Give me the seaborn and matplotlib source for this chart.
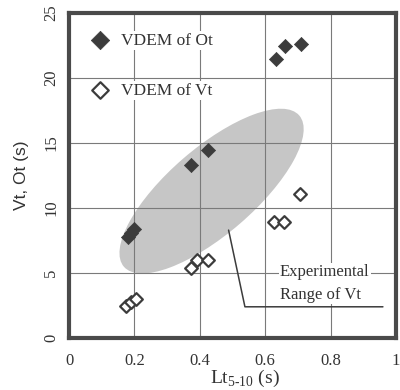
import numpy as np
import pandas as pd
import matplotlib
matplotlib.use("Agg")
import matplotlib.pyplot as plt
import seaborn as sns
from matplotlib.patches import Ellipse

# VDEM of Ot (filled diamonds)
ot_x = [0.18, 0.19, 0.20, 0.372, 0.424, 0.632, 0.662, 0.708]
ot_y = [7.75, 8.05, 8.35, 13.3, 14.5, 21.5, 22.5, 22.6]

# VDEM of Vt (open diamonds)
vt_x = [0.175, 0.19, 0.205, 0.373, 0.39, 0.424, 0.626, 0.657, 0.706]
vt_y = [2.5, 2.75, 3.0, 5.35, 6.0, 6.0, 8.95, 8.95, 11.1]

x_ticks = [0, 0.2, 0.4, 0.6, 0.8, 1.0]
x_tick_labels = ["0", "0.2", "0.4", "0.6", "0.8", "1"]
y_ticks = [0, 5, 10, 15, 20, 25]

# leader line of the "Experimental Range of Vt" note
leader_x = [0.488, 0.538, 0.96]
leader_y = [8.3, 2.4, 2.4]

sns.set_style("white")
plt.rcParams["font.family"] = ["Liberation Serif", "DejaVu Serif"]
plt.rcParams["mathtext.fontset"] = "custom"
plt.rcParams["mathtext.rm"] = "Liberation Serif"

dark = "#3c3c3c"
text_col = "#333333"

df_ot = pd.DataFrame({"x": ot_x, "y": ot_y})
df_vt = pd.DataFrame({"x": vt_x, "y": vt_y})

fig = plt.figure(figsize=(4, 3.9), dpi=100)
ax = fig.add_axes([69 / 400, (390 - 338) / 390, 327 / 400, 325 / 390])

# shaded experimental range (drawn in axes fraction so the tilt stays right)
blob = Ellipse((0.436, 0.452), 0.71, 0.265, angle=41,
               transform=ax.transAxes, facecolor="#c6c6c6",
               edgecolor="none", zorder=0.3)
ax.add_patch(blob)

sns.scatterplot(data=df_ot, x="x", y="y", marker="D", s=52, color=dark,
                edgecolor=dark, linewidth=0.5, ax=ax, zorder=3,
                label="VDEM of Ot")
sns.scatterplot(data=df_vt, x="x", y="y", marker="D", s=42,
                facecolor="white", edgecolor=dark, linewidth=1.6, ax=ax,
                zorder=3, label="VDEM of Vt")

ax.plot(leader_x, leader_y, color=dark, linewidth=1.1, zorder=2)
ax.text(0.645, 4.2, "Experimental\nRange of Vt", fontsize=12,
        color=text_col, ha="left", va="center", linespacing=1.55,
        bbox=dict(facecolor="white", edgecolor="none", pad=1), zorder=2.5)

ax.set_xlim(0, 1.0)
ax.set_ylim(0, 25)
ax.set_xticks(x_ticks)
ax.set_xticklabels(x_tick_labels)
ax.set_yticks(y_ticks)
ax.grid(True, color="#7a7a7a", linewidth=0.8)
ax.set_axisbelow(True)

for sp in ax.spines.values():
    sp.set_color("#4a4a4a")
    sp.set_linewidth(3)

ax.tick_params(axis="x", length=0, pad=11, labelsize=12, labelcolor=text_col)
ax.tick_params(axis="y", length=0, pad=7, labelsize=12, labelcolor=text_col,
               labelrotation=90)
for lab in ax.get_yticklabels():
    lab.set_va("center")

ax.set_xlabel(r"Lt$_{\mathregular{5\text{-}10}}$ (s)", fontsize=14,
              color=text_col, labelpad=-1, x=0.538)
ax.set_ylabel("Vt, Ot (s)", fontsize=12.5, color=text_col, labelpad=10,
              fontfamily="Liberation Sans")

leg = ax.legend(loc="upper left", bbox_to_anchor=(0.042, 0.94), frameon=False,
                fontsize=12.5, markerscale=1.3, handletextpad=0.2,
                labelspacing=1.95, borderaxespad=0, borderpad=0)
for t in leg.get_texts():
    t.set_color(text_col)
    t.set_bbox(dict(facecolor="white", edgecolor="none", pad=1))

fig.savefig("out.png", dpi=100)
